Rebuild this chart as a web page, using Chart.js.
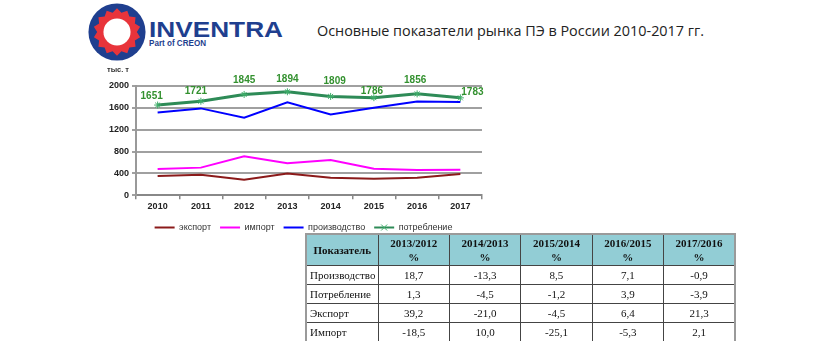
<!DOCTYPE html>
<html lang="ru">
<head>
<meta charset="utf-8">
<title>Основные показатели рынка ПЭ в России 2010-2017 гг.</title>
<script src="https://cdn.jsdelivr.net/npm/chart.js@4.4.1/dist/chart.umd.min.js"></script>
<style>
  html, body { margin: 0; padding: 0; background: #fff; }
  body { width: 820px; height: 341px; position: relative; overflow: hidden; font-family: Arial, "Liberation Sans", sans-serif; }
  #logo { position: absolute; left: 87px; top: 2px; }
  #brand { position: absolute; left: 147px; top: 14px; }
  #title { position: absolute; left: 317px; top: 21px; font: 14.4px "Open Sans", sans-serif; color: #222; white-space: nowrap; }
  #chartBox { position: absolute; left: 90px; top: 56px; width: 420px; height: 186px; }
  #tbl { position: absolute; left: 305px; top: 233px; width: 431px; border-collapse: collapse; table-layout: fixed;
         font: 11px "Liberation Serif", "Times New Roman", serif; color: #111; border: 2px solid #9a9a9a; }
  #tbl th, #tbl td { border: 1px solid #444; padding: 0 3px; height: 18px; text-align: center; white-space: nowrap; }
  #tbl th { background: #92cdd5; height: 30px; line-height: 14px; font-weight: bold; }
  #tbl td:first-child { text-align: left; }
</style>
</head>
<body>

<svg id="logo" width="60" height="60" viewBox="0 0 62 62">
  <circle cx="31" cy="31" r="29.5" fill="#1f3f8f"/>
  <polygon id="gear" fill="#e8343b"/>
  <circle cx="31" cy="31" r="14" fill="#fff"/>
</svg>
<svg id="brand" width="145" height="40">
  <text x="2" y="23" font-family="Arial, Liberation Sans" font-weight="bold" font-size="22" textLength="134" lengthAdjust="spacingAndGlyphs" fill="#1f3f8f">INVENTRA</text>
  <text x="2" y="32" font-family="Arial, Liberation Sans" font-weight="bold" font-size="8.5" textLength="57" lengthAdjust="spacingAndGlyphs" fill="#1f3f8f">Part of CREON</text>
</svg>

<div id="title">Основные показатели рынка ПЭ в России 2010-2017 гг.</div>

<div id="chartBox"><canvas id="chart"></canvas></div>

<table id="tbl">
  <colgroup><col style="width:72px"><col><col><col><col><col></colgroup>
  <thead><tr id="tblHead"></tr></thead>
  <tbody id="tblBody"></tbody>
</table>

<script>
// chart data
const years = ["2010", "2011", "2012", "2013", "2014", "2015", "2016", "2017"];
const exportVals = [350, 375, 285, 397, 318, 303, 320, 388];
const importVals = [480, 505, 715, 585, 645, 483, 460, 468];
const productionVals = [1515, 1590, 1420, 1700, 1480, 1600, 1715, 1705];
const consumptionVals = [1651, 1721, 1845, 1894, 1809, 1786, 1856, 1783];
const seriesNames = ["экспорт", "импорт", "производство", "потребление"];
const yMin = 0, yMax = 2000, yStep = 400;
const yUnit = "тыс. т";

// table data
const tableHeader = ["Показатель", "2013/2012<br>%", "2014/2013<br>%", "2015/2014<br>%", "2016/2015<br>%", "2017/2016<br>%"];
const tableRowNames = ["Производство", "Потребление", "Экспорт", "Импорт"];
const tableRowValues = [
  ["18,7", "-13,3", "8,5", "7,1", "-0,9"],
  ["1,3", "-4,5", "-1,2", "3,9", "-3,9"],
  ["39,2", "-21,0", "-4,5", "6,4", "21,3"],
  ["-18,5", "10,0", "-25,1", "-5,3", "2,1"]
];

// logo gear
(function () {
  const pts = [];
  const n = 14;
  for (let i = 0; i < n * 2; i++) {
    const r = i % 2 === 0 ? 24.5 : 20.5;
    const a = (Math.PI * i) / n - Math.PI / 2;
    pts.push((31 + r * Math.cos(a)).toFixed(2) + "," + (31 + r * Math.sin(a)).toFixed(2));
  }
  document.getElementById("gear").setAttribute("points", pts.join(" "));
})();

// table
document.getElementById("tblHead").innerHTML = tableHeader.map(h => "<th>" + h + "</th>").join("");
document.getElementById("tblBody").innerHTML = tableRowNames.map((name, i) =>
  "<tr><td>" + name + "</td>" + tableRowValues[i].map(v => "<td>" + v + "</td>").join("") + "</tr>"
).join("");

const green = "#2e8b57";
const labelGreen = "#33912f";

// manual placement of value labels, like in the original
const labelShift = [[-6, -9], [-5, -10], [0, -14], [0, -13], [4, -15], [-2, -6], [-2, -14], [12, -6]];

const extras = {
  id: "extras",
  afterLayout(chart) {
    // legend in the original sits a bit right of the canvas centre
    const lg = chart.legend;
    lg.left += 35;
    lg.legendHitBoxes.forEach(b => { b.left += 17.5; });
  },
  afterDatasetsDraw(chart) {
    const ctx = chart.ctx;
    const meta = chart.getDatasetMeta(3);
    ctx.save();
    ctx.font = "bold 10px Arial";
    ctx.fillStyle = labelGreen;
    ctx.textAlign = "center";
    ctx.textBaseline = "middle";
    meta.data.forEach((pt, i) => {
      const s = labelShift[i];
      ctx.fillText(String(consumptionVals[i]), pt.x + s[0], pt.y + s[1]);
    });
    // unit
    const area = chart.chartArea;
    ctx.font = "bold 7.5px Arial";
    ctx.fillStyle = "#333";
    ctx.fillText(yUnit, area.left - 18, area.top - 16);
    ctx.restore();
  },
  afterDraw(chart) {
    // marker in the consumption legend line
    const box = chart.legend.legendHitBoxes[3];
    if (!box) return;
    const ctx = chart.ctx;
    const cx = box.left + 10, cy = box.top + box.height / 2;
    ctx.save();
    ctx.strokeStyle = "#3fae6a";
    ctx.lineWidth = 1;
    ctx.beginPath();
    ctx.moveTo(cx - 3, cy - 3); ctx.lineTo(cx + 3, cy + 3);
    ctx.moveTo(cx - 3, cy + 3); ctx.lineTo(cx + 3, cy - 3);
    ctx.stroke();
    ctx.restore();
  }
};

new Chart(document.getElementById("chart"), {
  type: "line",
  data: {
    labels: years,
    datasets: [
      { label: seriesNames[0], data: exportVals, borderColor: "#8b1a1a", backgroundColor: "#8b1a1a", borderWidth: 2, pointRadius: 0 },
      { label: seriesNames[1], data: importVals, borderColor: "#ff00ff", backgroundColor: "#ff00ff", borderWidth: 2, pointRadius: 0 },
      { label: seriesNames[2], data: productionVals, borderColor: "#0000ff", backgroundColor: "#0000ff", borderWidth: 2, pointRadius: 0 },
      { label: seriesNames[3], data: consumptionVals, borderColor: green, backgroundColor: green, borderWidth: 3,
        pointStyle: "star", pointRadius: 3.5, pointBorderWidth: 1, pointBorderColor: "#3fae6a" }
    ]
  },
  options: {
    responsive: true,
    maintainAspectRatio: false,
    animation: false,
    layout: { padding: { top: 30, right: 28, left: 0, bottom: 0 } },
    elements: { line: { tension: 0 } },
    plugins: {
      tooltip: { enabled: false },
      legend: {
        position: "bottom",
        labels: {
          usePointStyle: true,
          pointStyleWidth: 20,
          boxHeight: 9,
          padding: 9,
          color: "#333",
          font: { family: "Arial", size: 9 },
          generateLabels(chart) {
            return chart.data.datasets.map((ds, i) => ({
              text: ds.label,
              datasetIndex: i,
              pointStyle: "line",
              strokeStyle: ds.borderColor,
              fillStyle: ds.borderColor,
              lineWidth: 2,
              fontColor: "#333"
            }));
          }
        }
      }
    },
    scales: {
      x: {
        offset: true,
        grid: { display: true, drawOnChartArea: false, offset: true, tickLength: 4, color: "#888", lineWidth: 1.5 },
        border: { color: "#888", width: 2 },
        ticks: { color: "#222", padding: 2, font: { family: "Arial", size: 9, weight: "bold" } }
      },
      y: {
        min: yMin,
        max: yMax,
        afterFit(scale) { scale.width = 46; },
        grid: { color: "#a0a0a0", lineWidth: 2, tickLength: 4 },
        border: { color: "#999", width: 2 },
        ticks: { stepSize: yStep, color: "#222", padding: 3, font: { family: "Arial", size: 9, weight: "bold" },
                 callback: v => String(v) }
      }
    }
  },
  plugins: [extras]
});
</script>
</body>
</html>
